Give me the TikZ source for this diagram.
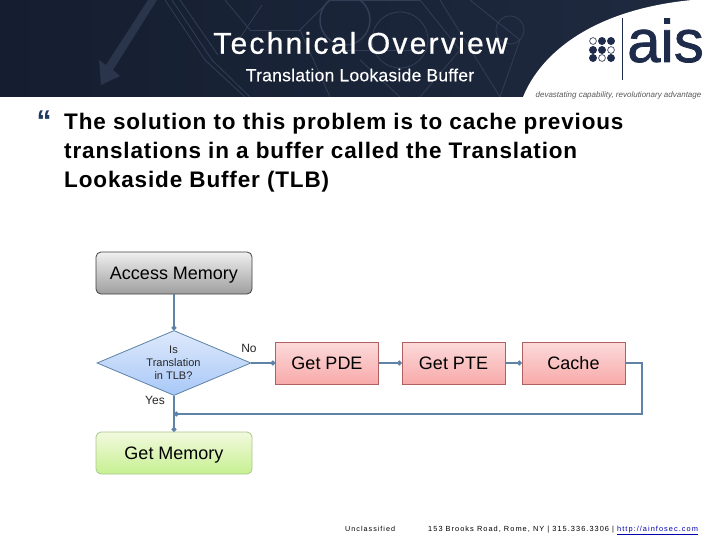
\documentclass[tikz,border=0pt]{standalone}
\usepackage{fontspec}
\setmainfont{Liberation Sans}
\newfontfamily\ttlfont[LetterSpace=7.5,FakeBold=0.6]{Liberation Sans}
\newfontfamily\subfont[LetterSpace=1.5,FakeBold=0.3]{Liberation Sans}
\newfontfamily\bodyfont[LetterSpace=3.8]{Liberation Sans Bold}
\newfontfamily\footfont[LetterSpace=14]{Liberation Sans}
\newfontfamily\logofont[FakeBold=1.2]{Liberation Sans}
\usetikzlibrary{shapes.geometric,arrows.meta,shadings}
\definecolor{navy}{HTML}{151E30}
\definecolor{navyb}{HTML}{1F2A40}
\definecolor{deco}{HTML}{333E56}
\definecolor{conn}{HTML}{5E83A6}
\definecolor{logo}{HTML}{1E2B4A}
\definecolor{bullblue}{HTML}{1F3864}
\definecolor{grnline}{HTML}{AAC88C}
\definecolor{grntop}{HTML}{F2F9DE}
\definecolor{grnbot}{HTML}{C6F091}
\definecolor{redline}{HTML}{B06060}
\definecolor{redtop}{HTML}{FCDADA}
\definecolor{redbot}{HTML}{F8AAAA}
\definecolor{dtop}{HTML}{DEE9FB}
\definecolor{dbot}{HTML}{A8C8F8}
\tikzset{
  fbox/.style={draw=#1,line width=.8pt,minimum height=42pt,font=\fontsize{18}{20}\selectfont,text=black,inner sep=0pt,text height=14pt,text depth=1pt},
  graybox/.style={fbox=black!75,rounded corners=5pt,minimum width=156pt,top color=white!94!black,bottom color=black!38},
  greenbox/.style={fbox=grnline,rounded corners=5pt,minimum width=156pt,top color=grntop,bottom color=grnbot},
  redbox/.style={fbox=redline,minimum width=103pt,top color=redtop,bottom color=redbot},
  decision/.style={diamond,draw=conn,line width=.8pt,inner sep=0pt,minimum width=154pt,minimum height=65pt,aspect=2.37,top color=dtop,bottom color=dbot},
  flow/.style={draw=conn,line width=2pt,-{Circle[length=4.6pt,width=4.6pt]}},
  lab/.style={font=\fontsize{12}{14}\selectfont,text=black!85,inner sep=0pt},
  decoline/.style={draw=deco,line width=.8pt},
  dotf/.style={fill=logo,draw=logo,line width=.6pt},
  doto/.style={fill=white,draw=logo,line width=.6pt},
}
\begin{document}
\begin{tikzpicture}[x=1pt,y=-1pt]
\useasboundingbox (0,0) rectangle (720,540);
\fill[white] (0,0) rectangle (720,540);
% header
\shade[left color=navy,right color=navyb] (0,0) rectangle (720,97);
% header decoration
\begin{scope}
\clip (0,0) rectangle (720,97);
\fill[deco,opacity=.7] (148,0) -- (157,0) -- (113,70) -- (120,76) -- (101,85) -- (99,60) -- (106,65) -- cycle;
\foreach \a/\b/\c/\d in {165/0/205/60,172/0/212/60,180/0/218/55,205/60/245/97,212/60/250/97,225/0/250/30,250/30/300/30,262/5/240/38,300/30/330/97,330/0/300/30,330/0/420/0,420/0/460/50,460/50/420/97,340/50/420/50,360/60/400/97,440/0/500/97,470/0/520/40,520/40/500/97}
  \draw[decoline] (\a,\b) -- (\c,\d);
\draw[decoline,line width=1.5pt] (345,20) circle (25pt);
\draw[decoline] (400,40) circle (28pt);
\draw[decoline] (510,30) circle (14pt);
\end{scope}
% white logo area
\fill[white] (523,97) .. controls (540,55) and (590,10) .. (692,0) -- (720,0) -- (720,97) -- cycle;
% logo
\foreach \x/\y in {602/41,611/41,593/50,602/50,593/58,611/58}
  \draw[dotf] (\x,\y) circle (3.6pt);
\foreach \x/\y in {593/41,611/50,602/58}
  \draw[doto] (\x,\y) circle (3.4pt);
\draw[logo,line width=.8pt] (622,18) -- (622,80);
\node[anchor=base west,inner sep=0pt,text=logo] (logoword) at (627,62) {\logofont\fontsize{60}{60}\selectfont ais};
\node[anchor=base,inner sep=0pt,text=black!65] (tag) at (618.5,97.5) {\fontsize{8}{10}\selectfont\itshape devastating capability, revolutionary advantage};
% titles
\node[text=white,inner sep=0pt] (title) at (360.5,43) {\ttlfont\fontsize{30}{34}\selectfont Technical Overview};
\node[text=white,inner sep=0pt] (subtitle) at (360,75) {\subfont\fontsize{17.5}{20}\selectfont Translation Lookaside Buffer};
% bullet and body
\node[text=bullblue,inner sep=0pt] (bullet) at (44,121) {\fontsize{30}{30}\selectfont\bfseries “};
\node[anchor=north west,align=left,inner sep=0pt,text=black,font=\bodyfont\fontsize{22.5}{29}\selectfont] (body) at (64,113) {The solution to this problem is to cache previous\\ translations in a buffer called the Translation\\ Lookaside Buffer (TLB)};
% flowchart
\node[graybox] (access) at (174,273) {Access Memory};
\node[decision] (tlb) at (174,363) {};
\node[align=center,inner sep=0pt,text=black!85,font=\fontsize{11}{13}\selectfont] (tlbtext) at (173.5,363) {Is\\Translation\\in TLB?};
\node[redbox] (pde) at (327,363) {Get PDE};
\node[redbox] (pte) at (453.5,363) {Get PTE};
\node[redbox] (cache) at (573.5,363) {Cache};
\node[greenbox] (mem) at (174,453) {Get Memory};
\node[lab] (no) at (249,348) {No};
\node[lab] (yes) at (155,400) {Yes};
\coordinate (corner) at (642,414);
\coordinate (join) at (174,414);
\draw[flow] (access) -- (tlb.north);
\draw[flow] (tlb.east) -- (pde.west);
\draw[flow] (pde) -- (pte);
\draw[flow] (pte) -- (cache);
\draw[flow] (tlb.south) -- (mem.north);
\draw[flow] (cache.east) -| (corner) -- (join);
% footer
\node[anchor=base west,inner sep=0pt,text=black] (uncl) at (345,531) {\footfont\fontsize{7.2}{9}\selectfont Unclassified};
\node[anchor=base west,inner sep=0pt,text=black] (addr) at (428,531) {\footfont\fontsize{7.4}{9}\selectfont 153 Brooks Road, Rome, NY | 315.336.3306 | \textcolor{blue!70!black}{\underline{http://ainfosec.com}}};
\end{tikzpicture}
\end{document}
